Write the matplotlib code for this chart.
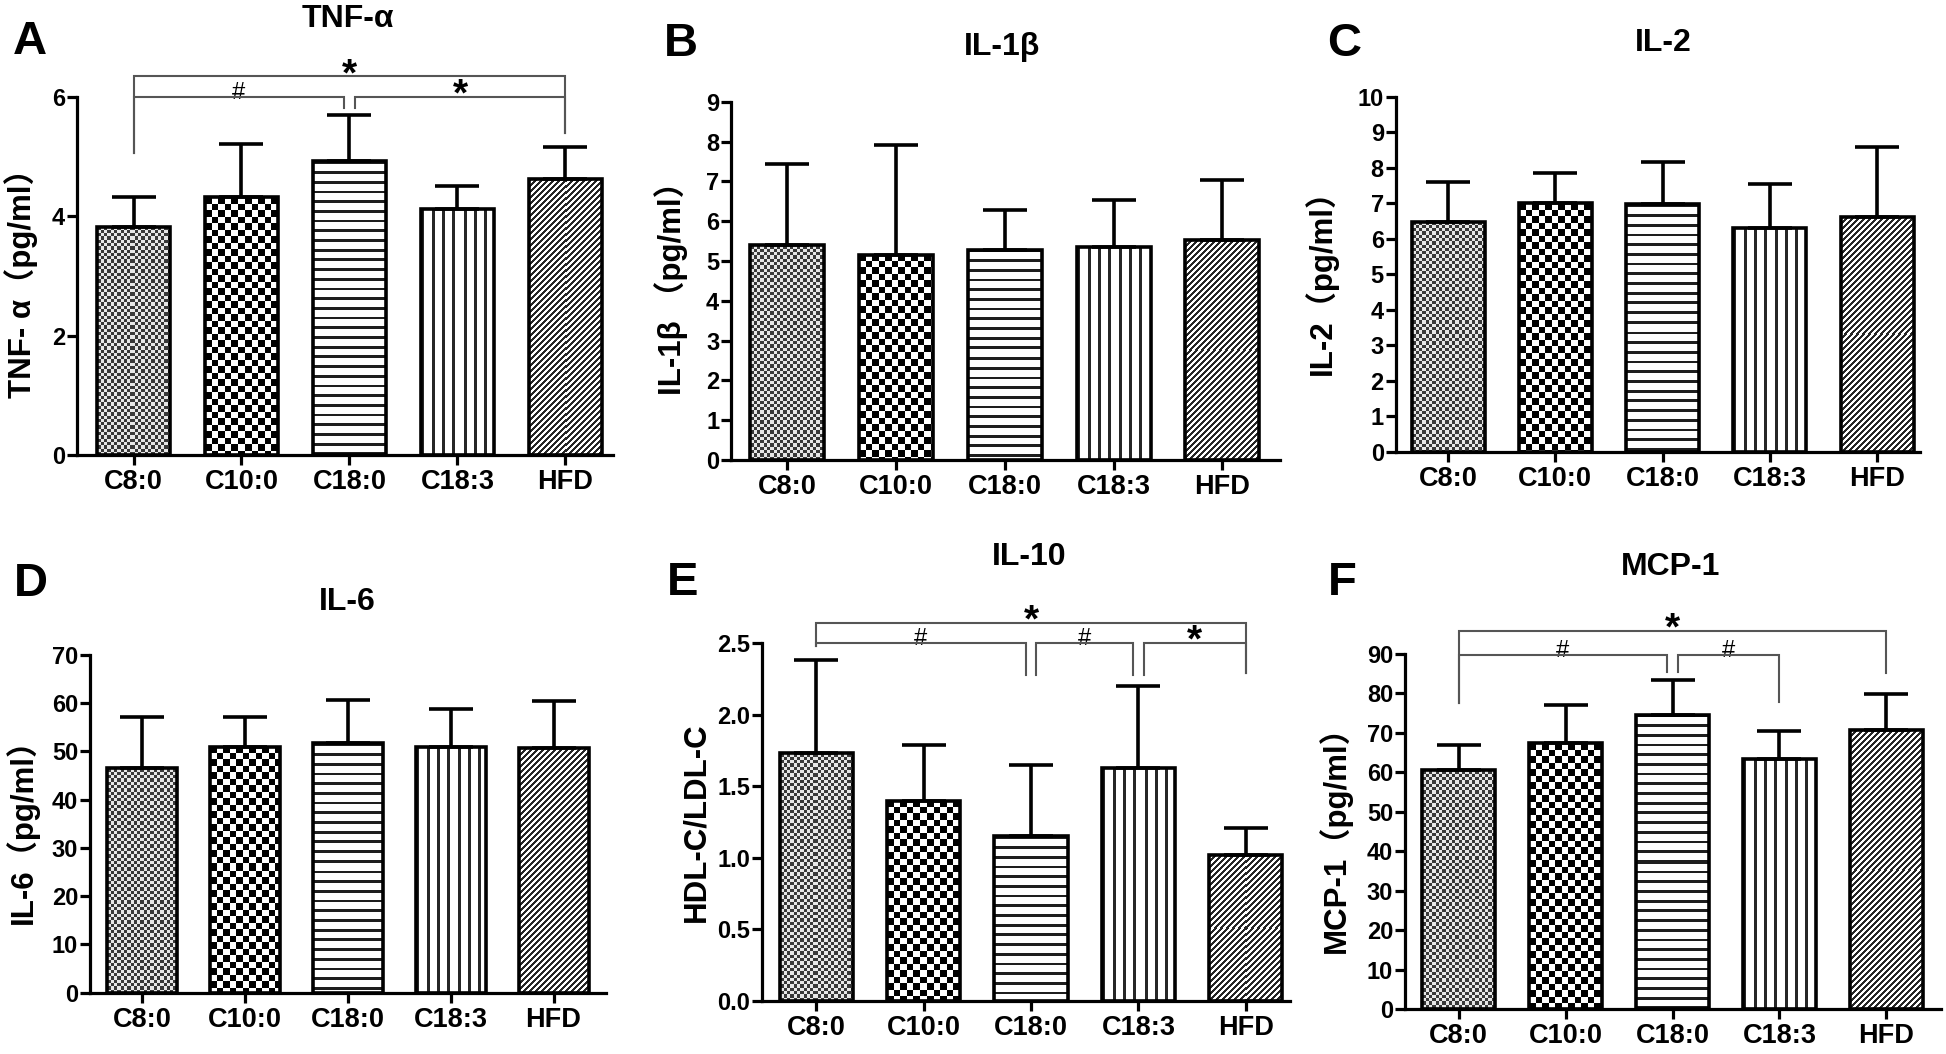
import numpy as np
import matplotlib
matplotlib.use("Agg")
from matplotlib import pyplot as plt

plt.rcParams['font.family'] = ['Liberation Sans', 'Noto Sans CJK SC', 'DejaVu Sans']
plt.rcParams['font.weight'] = 'bold'

###################### DATA
groups = ["C8:0", "C10:0", "C18:0", "C18:3", "HFD"]
patterns = ["fine", "checker", "hstripe", "vstripe", "diag"]

tnf_mean = [3.82, 4.32, 4.92, 4.12, 4.62]
tnf_sd = [0.50, 0.88, 0.78, 0.38, 0.53]
il1b_mean = [5.39, 5.15, 5.28, 5.34, 5.53]
il1b_sd = [2.05, 2.75, 1.00, 1.18, 1.51]
il2_mean = [6.48, 7.01, 6.97, 6.31, 6.62]
il2_sd = [1.12, 0.83, 1.18, 1.22, 1.97]
il6_mean = [46.6, 51.0, 51.7, 50.9, 50.7]
il6_sd = [10.6, 6.2, 9.0, 8.0, 9.8]
il10_mean = [1.73, 1.40, 1.15, 1.63, 1.02]
il10_sd = [0.65, 0.39, 0.50, 0.57, 0.19]
mcp1_mean = [60.5, 67.4, 74.6, 63.3, 70.8]
mcp1_sd = [6.5, 9.7, 8.8, 7.1, 9.1]

# significance brackets: (from, to, height, drop at from, drop at to, mark)
tnf_brackets = [(0, 4, 6.34, 5.05, 5.40, '*'),
                (0, 2, 6.00, 5.05, 5.81, '#'),
                (2, 4, 6.00, 5.81, 5.40, '*')]
il10_brackets = [(0, 4, 2.64, 2.48, 2.29, '*'),
                 (0, 2, 2.50, 2.48, 2.28, '#'),
                 (2, 3, 2.50, 2.28, 2.28, '#'),
                 (3, 4, 2.50, 2.28, 2.29, '*')]
mcp1_brackets = [(0, 4, 95.9, 77.5, 85.1, '*'),
                 (0, 2, 89.8, 77.5, 85.5, '#'),
                 (2, 3, 89.8, 85.5, 77.9, '#')]
########################

W, H = 1946, 1054
fig = plt.figure(figsize=(W / 100, H / 100), dpi=100)


def texture(kind, w, h):
    X, Y = np.meshgrid(np.arange(w), np.arange(h))
    if kind == "fine":
        return 0.22 + 0.68 * ((X // 3.3 + Y // 3.3) % 2)
    if kind == "checker":
        return 1.0 * ((X // 6.5 + Y // 6.5) % 2)
    if kind == "hstripe":
        return np.where((Y % 9.7) < 2.8, 0.12, 1.0)
    if kind == "vstripe":
        return np.where((X % 10.3) < 3.0, 0.15, 1.0)
    return np.where(((X + Y) % 6) < 2.2, 0.15, 1.0)


def fill_bar(ax, patch, kind):
    x0, y0 = patch.get_x(), patch.get_y()
    x1, y1 = x0 + patch.get_width(), y0 + patch.get_height()
    (px0, py0), (px1, py1) = ax.transData.transform([(x0, y0), (x1, y1)])
    w = max(int(round(px1 - px0)), 1)
    h = max(int(round(py1 - py0)), 1)
    im = ax.imshow(texture(kind, w, h), cmap='gray', vmin=0, vmax=1,
                   extent=(x0, x1, y0, y1), interpolation='nearest',
                   aspect='auto', zorder=2)
    im.set_clip_path(patch)


def draw_brackets(ax, brackets, gap=0.05):
    for b in brackets:
        i, j, level, di, dj, mark = b
        others = [o for o in brackets if o is not b and o[2] == level]
        xi = i + (gap if any(o[1] == i for o in others) else 0)
        xj = j - (gap if any(o[0] == j for o in others) else 0)
        ax.plot([xi, xi, xj, xj], [di, level, level, dj], color='#555555',
                lw=1.5, clip_on=False, zorder=5, solid_joinstyle='miter')
        if mark == '*':
            ax.annotate('*', ((xi + xj) / 2, level), xytext=(0, 1),
                        textcoords='offset points', ha='center', va='center',
                        fontsize=28, fontweight='bold', annotation_clip=False)
        else:
            ax.annotate('#', ((xi + xj) / 2, level), xytext=(0, 3),
                        textcoords='offset points', ha='center', va='center',
                        fontsize=17, fontweight='normal', annotation_clip=False)


def panel(box, xlim, yticks, means, sds, title, title_xy, letter, letter_xy,
          ylabel, ylabel_x, brackets=None, fmt="{:g}"):
    left, right, bottom, top = box
    ax = fig.add_axes([left / W, 1 - bottom / H, (right - left) / W, (bottom - top) / H])
    x = np.arange(len(groups))
    bars = ax.bar(x, means, width=0.68, facecolor='none', edgecolor='black',
                  linewidth=2.6, zorder=3,
                  yerr=[np.zeros(len(sds)), sds], capsize=16,
                  error_kw=dict(elinewidth=2.6, capthick=2.6, ecolor='black', zorder=4))
    ax.set_xlim(*xlim)
    ax.set_ylim(0, yticks[-1])
    for p, kind in zip(bars.patches, patterns):
        fill_bar(ax, p, kind)
    ax.set_xlim(*xlim)
    ax.set_ylim(0, yticks[-1])

    for s in ['top', 'right']:
        ax.spines[s].set_visible(False)
    for s in ['left', 'bottom']:
        ax.spines[s].set_linewidth(2.3)
    ax.set_xticks(x)
    ax.set_xticklabels(groups, fontsize=19.5, fontweight='bold')
    ax.set_yticks(yticks)
    ax.set_yticklabels([fmt.format(v) for v in yticks], fontsize=17, fontweight='bold')
    ax.tick_params(axis='both', direction='out', length=7, width=2.3)
    ax.tick_params(axis='y', pad=1.5)
    ax.tick_params(axis='x', pad=3)
    ax.patch.set_alpha(0)

    ax.set_ylabel(ylabel, fontsize=22.5, fontweight='bold', va='center')
    ax.yaxis.set_label_coords((ylabel_x - left) / (right - left), 0.5)

    fig.text(title_xy[0] / W, 1 - title_xy[1] / H, title, fontsize=23,
             fontweight='bold', ha='center', va='center')
    fig.text(letter_xy[0] / W, 1 - letter_xy[1] / H, letter, fontsize=34,
             fontweight='bold', ha='center', va='center')
    if brackets:
        draw_brackets(ax, brackets)
    return ax


panel((76.7, 613, 455, 96.7), (-0.526, 4.44), [0, 2, 4, 6], tnf_mean, tnf_sd,
      "TNF-α", (348, 19), "A", (30, 42), "TNF- α（pg/ml）", 21, tnf_brackets)
panel((731, 1280, 460, 101.7), (-0.515, 4.53), list(range(10)), il1b_mean, il1b_sd,
      "IL-1β", (1002, 47), "B", (681, 44), "IL-1β （pg/ml）", 671)
panel((1395.6, 1920, 451.7, 96.7), (-0.489, 4.40), list(range(11)), il2_mean, il2_sd,
      "IL-2", (1663, 43), "C", (1344, 44), "IL-2（pg/ml）", 1321)
panel((90, 606, 992.7, 655), (-0.506, 4.51), list(range(0, 71, 10)), il6_mean, il6_sd,
      "IL-6", (347, 602), "D", (31, 584), "IL-6（pg/ml）", 22)
panel((762, 1290, 1001, 643), (-0.503, 4.41), [0, 0.5, 1.0, 1.5, 2.0, 2.5], il10_mean, il10_sd,
      "IL-10", (1029, 557), "E", (683, 583), "HDL-C/LDL-C", 696, il10_brackets, fmt="{:.1f}")
panel((1405, 1941, 1009, 654), (-0.501, 4.51), list(range(0, 91, 10)), mcp1_mean, mcp1_sd,
      "MCP-1", (1671, 567), "F", (1342, 583), "MCP-1（pg/ml）", 1335, mcp1_brackets)

fig.savefig("out.png", dpi=100)
